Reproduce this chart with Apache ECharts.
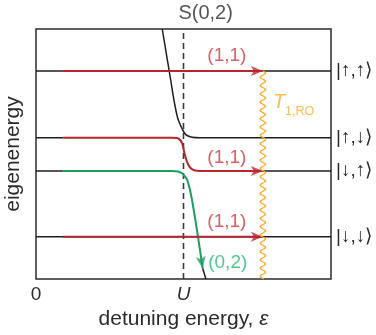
<!DOCTYPE html>
<html><head><meta charset="utf-8">
<script src="https://cdn.jsdelivr.net/npm/echarts@6/dist/echarts.min.js"></script>
<style>html,body{margin:0;padding:0;background:#fff}#c{width:376px;height:335px}</style>
</head><body><div id="c"></div>
<script>
// ---------- data ----------
const xTickValues = [0, 5];
const xTickLabels = ['0', 'U'];
const levelNames = ['|↑,↑⟩', '|↑,↓⟩', '|↓,↑⟩', '|↓,↓⟩'];
const levelEnergies = [8.32, 5.65, 4.32, 1.69];
const detuningU = 5;
const xMax = 10;
const yMax = 10;
const transferStartX = 0.92;   // where the coloured (1,1) paths start
const readoutX = 7.69;         // arrow tips / T1,RO relaxation position

// S(0,2) branch that becomes |↑,↓⟩ on the right
const upperBranchX = [4.28, 4.56, 4.70, 4.80, 4.88, 4.95, 5.02, 5.12, 5.29, 5.56, 10];
const upperBranchY = [10, 8.0, 7.0, 6.45, 6.2, 6.02, 5.86, 5.74, 5.67, 5.65, 5.65];
// |↑,↓⟩ (1,1) path: pulsed through the anticrossing to |↓,↑⟩
const redPathX = [0.92, 4.61, 4.78, 4.90, 4.97, 5.02, 5.08, 5.15, 5.24, 5.36, 5.56, 7.69];
const redPathY = [5.65, 5.65, 5.64, 5.54, 5.36, 5.09, 4.83, 4.60, 4.44, 4.35, 4.32, 4.32];
// |↓,↑⟩ path: adiabatically follows to (0,2)
const greenPathX = [0.92, 4.61, 4.81, 4.95, 5.05, 5.14, 5.29, 5.65];
const greenPathY = [4.32, 4.32, 4.30, 4.23, 4.10, 3.92, 3.16, 0.43];
// remaining S(0,2) tail below the green arrow
const lowerTailX = [5.65, 5.76];
const lowerTailY = [0.43, 0];

const pathLabels = ['(1,1)', '(1,1)', '(1,1)', '(0,2)'];
const singletLabel = 'S(0,2)';
const xAxisTitle = 'detuning energy, ';
const yAxisTitle = 'eigenenergy';

// ---------- styles ----------
const FONT = 'Liberation Sans, Arial, sans-serif';
const BLACK = '#1e1e1e';
const RED = '#b5272f';
const RED_TXT = '#cd3843';
const GREEN = '#1f9d62';
const GREEN_TXT = '#2bb574';
const ORANGE = '#f7aa2c';
const TXT = '#2b2b2b';

const zip = (xs, ys) => xs.map((x, i) => [x, ys[i]]);

function lineSeries(data, color, width, extra) {
  return Object.assign({
    type: 'line', data: data, symbol: 'none', showSymbol: false, silent: true,
    animation: false, lineStyle: { color: color, width: width }, z: 2
  }, extra || {});
}
function endLbl(text) {
  return { show: true, formatter: text, distance: 5, color: TXT, fontSize: 19, fontFamily: FONT };
}

const series = [];
// horizontal black levels
series.push(lineSeries([[0, levelEnergies[0]], [xMax, levelEnergies[0]]], BLACK, 1.5, { endLabel: endLbl(levelNames[0]) }));
series.push(lineSeries([[0, levelEnergies[3]], [xMax, levelEnergies[3]]], BLACK, 1.5, { endLabel: endLbl(levelNames[3]) }));
series.push(lineSeries([[0, levelEnergies[1]], [transferStartX, levelEnergies[1]]], BLACK, 1.5));
series.push(lineSeries([[0, levelEnergies[2]], [transferStartX, levelEnergies[2]]], BLACK, 1.5));
series.push(lineSeries([[readoutX, levelEnergies[2]], [xMax, levelEnergies[2]]], BLACK, 1.5, { endLabel: endLbl(levelNames[2]) }));
series.push(lineSeries(zip(upperBranchX, upperBranchY), BLACK, 1.5, { smooth: 0.35, endLabel: endLbl(levelNames[1]) }));
series.push(lineSeries(zip(lowerTailX, lowerTailY), BLACK, 1.5));
// dashed U marker
series.push(lineSeries([[detuningU, 0], [detuningU, yMax]], '#3a3a3a', 1.5, { lineStyle: { color: '#3a3a3a', width: 1.6, type: [6, 4] } }));
// coloured paths
series.push(lineSeries(zip(redPathX, redPathY), RED, 2, { smooth: 0.4, z: 3 }));
series.push(lineSeries(zip(greenPathX, greenPathY), GREEN, 2, { smooth: 0.4, z: 3 }));
series.push(lineSeries([[transferStartX, levelEnergies[0]], [readoutX, levelEnergies[0]]], RED, 2, { z: 3 }));
series.push(lineSeries([[transferStartX, levelEnergies[3]], [readoutX, levelEnergies[3]]], RED, 2, { z: 3 }));

// arrow heads
const ARROW = 'path://M0,0 L12,5 L0,10 L3,5 Z';
series.push({
  type: 'scatter', silent: true, animation: false, z: 4, clip: false,
  symbol: ARROW, symbolSize: [12, 10], symbolOffset: [-6, 0],
  itemStyle: { color: RED },
  data: [[readoutX, levelEnergies[0]], [readoutX, levelEnergies[2]], [readoutX, levelEnergies[3]]]
});
series.push({
  type: 'scatter', silent: true, animation: false, z: 4, clip: false,
  symbol: ARROW, symbolSize: [12, 10], symbolRotate: -80.7, symbolOffset: [-1, -5.9],
  itemStyle: { color: GREEN },
  data: [[greenPathX[greenPathX.length - 1], greenPathY[greenPathY.length - 1]]]
});

// wavy relaxation line T1,RO
series.push({
  type: 'custom', silent: true, animation: false, z: 5, clip: false,
  data: [[readoutX, levelEnergies[0], 0]],
  renderItem: function (params, api) {
    const p0 = api.coord([api.value(0), api.value(1)]);
    const p1 = api.coord([api.value(0), api.value(2)]);
    const pts = [];
    const period = 8.3, amp = 2.6;
    for (let y = p0[1]; y <= p1[1]; y += 0.5) {
      pts.push([p0[0] + amp * Math.sin((y - p0[1]) / period * 2 * Math.PI), y]);
    }
    return { type: 'polyline', shape: { points: pts }, style: { stroke: ORANGE, lineWidth: 1.4, fill: null } };
  }
});

// text annotations
function txt(x, y, text, color, extra) {
  return { value: [x, y], label: Object.assign({ show: true, position: 'inside', formatter: text, color: color, fontSize: 19, fontFamily: FONT }, extra || {}) };
}
series.push({
  type: 'scatter', silent: true, animation: false, z: 6, clip: false, symbolSize: 0,
  data: [
    txt(6.47, 8.92, pathLabels[0], RED_TXT),
    txt(6.47, 4.86, pathLabels[1], RED_TXT),
    txt(6.47, 2.28, pathLabels[2], RED_TXT),
    txt(6.50, 0.63, pathLabels[3], GREEN_TXT),
    txt(5.75, 10.64, singletLabel, TXT, { fontSize: 20 }),
    txt(8.03, 7.08, '{t|T}{s|1,RO}', ORANGE, {
      align: 'left',
      rich: {
        t: { fontStyle: 'italic', fontSize: 20, lineHeight: 20, verticalAlign: 'top', color: ORANGE, fontFamily: FONT },
        s: { fontSize: 12.5, lineHeight: 12, padding: [13, 0, 0, 0], verticalAlign: 'top', color: ORANGE, fontFamily: FONT }
      }
    })
  ]
});

const chart = echarts.init(document.getElementById('c'), null, { renderer: 'canvas' });
chart.setOption({
  animation: false,
  backgroundColor: '#fff',
  grid: { left: 36, right: 45, top: 29, bottom: 56, containLabel: false, outerBoundsMode: 'none', show: true, borderColor: '#2b2b2b', borderWidth: 1.5 },
  xAxis: {
    type: 'value', min: 0, max: xMax, interval: detuningU,
    axisLine: { show: false }, axisTick: { show: false }, splitLine: { show: false },
    axisLabel: {
      margin: 6, color: TXT, fontSize: 19, fontFamily: FONT,
      formatter: function (v) {
        const i = xTickValues.indexOf(v);
        if (i < 0) return '';
        return xTickLabels[i] === 'U' ? '{u|U}' : xTickLabels[i];
      },
      rich: { u: { fontStyle: 'italic', fontSize: 19, color: TXT, fontFamily: FONT } }
    },
    name: xAxisTitle + '{e|ε}', nameLocation: 'middle', nameGap: 29,
    nameTextStyle: { color: TXT, fontSize: 21, fontFamily: FONT, rich: { e: { fontStyle: 'italic', fontSize: 21, color: TXT, fontFamily: FONT } } }
  },
  yAxis: {
    type: 'value', min: 0, max: yMax,
    axisLine: { show: false }, axisTick: { show: false }, splitLine: { show: false }, axisLabel: { show: false },
    name: yAxisTitle, nameLocation: 'middle', nameGap: 12,
    nameTextStyle: { color: TXT, fontSize: 21, fontFamily: FONT }
  },
  series: series
});
</script>
</body></html>
